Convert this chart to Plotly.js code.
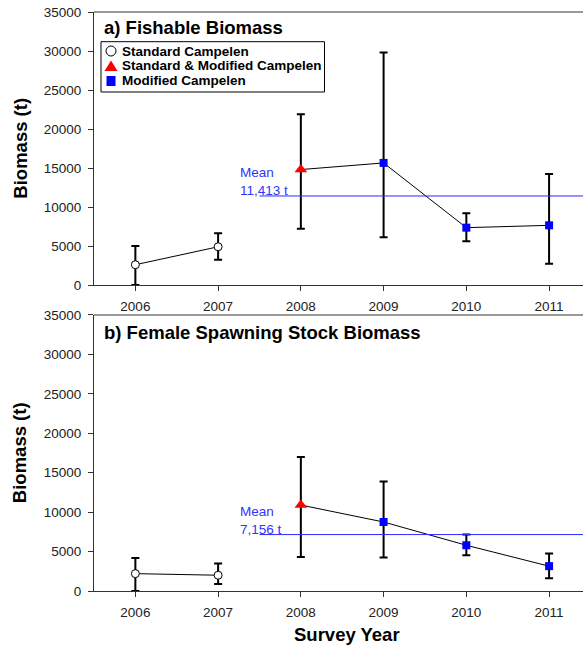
<!DOCTYPE html>
<html>
<head>
<meta charset="utf-8">
<script src="https://cdn.plot.ly/plotly-3.0.1.min.js"></script>
<style>
  html, body { margin: 0; padding: 0; background: #fff; }
  #chart { width: 583px; height: 648px; }
</style>
</head>
<body>
<div id="chart"></div>
<script>
// ---- data ----
const years = [2006, 2007, 2008, 2009, 2010, 2011];
const gear = ['Standard Campelen', 'Standard Campelen', 'Standard & Modified Campelen',
              'Modified Campelen', 'Modified Campelen', 'Modified Campelen'];

const fishable      = [2600, 4900, 14800, 15650, 7350, 7650];
const fishableUpper = [5000, 6630, 21900, 29800, 9200, 14230];
const fishableLower = [0, 3250, 7220, 6110, 5600, 2730];
const fishableMean  = 11413;

const ssb      = [2200, 2000, 10900, 8750, 5800, 3150];
const ssbUpper = [4190, 3480, 17000, 13880, 7160, 4750];
const ssbLower = [0, 890, 4310, 4240, 4530, 1610];
const ssbMean  = 7156;

const panelTitles = ['a) Fishable Biomass', 'b) Female Spawning Stock Biomass'];
const legendLabels = ['Standard Campelen', 'Standard & Modified Campelen', 'Modified Campelen'];
const yTicks = [0, 5000, 10000, 15000, 20000, 25000, 30000, 35000];
const meanStartYear = 2007.5;

// ---- styling ----
const FONT = 'Liberation Sans, Arial, Helvetica, sans-serif';
const groupStyle = {
  'Standard Campelen': { symbol: 'circle', color: '#ffffff', size: 8, line: { color: '#000', width: 1 } },
  'Standard & Modified Campelen': { symbol: 'triangle-up', color: '#ff0000', size: 11, line: { color: '#ff0000', width: 0 } },
  'Modified Campelen': { symbol: 'square', color: '#0000ff', size: 8, line: { color: '#0000ff', width: 0 } }
};

const XRANGE = [2005.5, 2011.41];

function pick(arr, idx) { return idx.map(i => arr[i]); }

function panelTraces(vals, upper, lower, xa, ya) {
  const traces = [];
  // connecting lines: within the standard-gear years, and from 2008 onward
  [[0, 1], [2, 3, 4, 5]].forEach(seg => {
    traces.push({
      x: pick(years, seg), y: pick(vals, seg), xaxis: xa, yaxis: ya,
      mode: 'lines', line: { color: '#000', width: 1 },
      showlegend: false, hoverinfo: 'skip', cliponaxis: false
    });
  });
  legendLabels.forEach(g => {
    const idx = years.map((_, i) => i).filter(i => gear[i] === g);
    const st = groupStyle[g];
    traces.push({
      x: pick(years, idx), y: pick(vals, idx), xaxis: xa, yaxis: ya,
      name: g, mode: 'markers', showlegend: false, cliponaxis: false,
      marker: { symbol: st.symbol, color: st.color, size: st.size, line: st.line },
      error_y: {
        type: 'data', symmetric: false,
        array: idx.map(i => upper[i] - vals[i]),
        arrayminus: idx.map(i => vals[i] - lower[i]),
        color: '#000', thickness: 2, width: 4
      }
    });
  });
  return traces;
}

const data = [].concat(
  panelTraces(fishable, fishableUpper, fishableLower, 'x', 'y'),
  panelTraces(ssb, ssbUpper, ssbLower, 'x2', 'y2')
);

function xAxis(anchor) {
  return {
    range: XRANGE, anchor: anchor, tickmode: 'array', tickvals: years,
    ticktext: years.map(String), ticks: 'outside', ticklen: 5, tickwidth: 1,
    tickcolor: '#333', showline: true, linecolor: '#333', linewidth: 1,
    showgrid: false, zeroline: false, ticklabelstandoff: 4,
    tickfont: { family: FONT, size: 13.5, color: '#222' }, fixedrange: true
  };
}
function yAxis(anchor, domain) {
  return {
    range: [0, 35000], domain: domain, anchor: anchor, tickmode: 'array',
    tickvals: yTicks, ticktext: yTicks.map(String), ticks: 'outside', ticklen: 5,
    tickwidth: 1, tickcolor: '#333', showline: true, linecolor: '#333', linewidth: 1,
    showgrid: false, zeroline: false, ticklabelstandoff: 4,
    tickfont: { family: FONT, size: 13.5, color: '#222' }, fixedrange: true
  };
}

const fmt = v => v.toLocaleString('en-US');
const boldFont = sz => ({ family: FONT, size: sz, weight: 'bold', color: '#000' });

// ---- legend (drawn as a framed key inside panel a) ----
const legX = 0.0348, legTextX = 0.0532;
const legRows = [0.8571, 0.8022, 0.7473];
const legendShapes = [
  { type: 'rect', xref: 'x domain', yref: 'y domain', x0: 0.0143, x1: 0.4714, y0: 0.707, y1: 0.8912,
    line: { color: '#000', width: 1 }, fillcolor: '#fff', layer: 'above' },
  { type: 'circle', xref: 'x domain', yref: 'y domain', xsizemode: 'pixel', ysizemode: 'pixel',
    xanchor: legX, yanchor: legRows[0], x0: -5, x1: 5, y0: -5, y1: 5,
    line: { color: '#000', width: 1 }, fillcolor: '#fff', layer: 'above' },
  { type: 'path', xref: 'x domain', yref: 'y domain', xsizemode: 'pixel', ysizemode: 'pixel',
    xanchor: legX, yanchor: legRows[1], path: 'M-6.5,-5 L6.5,-5 L0,5.5 Z',
    line: { color: '#ff0000', width: 0 }, fillcolor: '#ff0000', layer: 'above' },
  { type: 'rect', xref: 'x domain', yref: 'y domain', xsizemode: 'pixel', ysizemode: 'pixel',
    xanchor: legX, yanchor: legRows[2], x0: -4.5, x1: 4.5, y0: -5, y1: 5,
    line: { color: '#0000ff', width: 0 }, fillcolor: '#0000ff', layer: 'above' }
];
const legendText = legendLabels.map((t, i) => ({
  text: t, xref: 'x domain', yref: 'y domain', x: legTextX, y: legRows[i],
  xanchor: 'left', yanchor: 'middle', showarrow: false, font: boldFont(13.5)
}));

const layout = {
  width: 583, height: 648,
  margin: { l: 94, r: 0, t: 12, b: 57 },
  paper_bgcolor: '#fff', plot_bgcolor: '#fff',
  font: { family: FONT, color: '#000' },
  xaxis: xAxis('y'),
  yaxis: yAxis('x', [0.5285, 1]),
  xaxis2: xAxis('y2'),
  yaxis2: yAxis('x2', [0, 0.4767]),
  showlegend: false,
  shapes: [
    // top frame lines
    { type: 'line', xref: 'x domain', yref: 'y domain', x0: 0, x1: 1, y0: 1, y1: 1, line: { color: '#333', width: 1 } },
    { type: 'line', xref: 'x2 domain', yref: 'y2 domain', x0: 0, x1: 1, y0: 1, y1: 1, line: { color: '#333', width: 1 } },
    // mean lines
    { type: 'line', xref: 'x', yref: 'y', x0: meanStartYear, x1: XRANGE[1], y0: fishableMean, y1: fishableMean, line: { color: '#2a2aff', width: 1 } },
    { type: 'line', xref: 'x2', yref: 'y2', x0: meanStartYear, x1: XRANGE[1], y0: ssbMean, y1: ssbMean, line: { color: '#2a2aff', width: 1 } }
  ].concat(legendShapes),
  annotations: [
    { text: panelTitles[0], xref: 'x domain', yref: 'y domain', x: 0.017, y: 0.943, xanchor: 'left', yanchor: 'middle', showarrow: false, font: boldFont(18.5) },
    { text: panelTitles[1], xref: 'x2 domain', yref: 'y2 domain', x: 0.017, y: 0.935, xanchor: 'left', yanchor: 'middle', showarrow: false, font: boldFont(18.5) },
    { text: 'Mean<br>' + fmt(fishableMean) + ' t', xref: 'x', yref: 'y', x: 2007.24, y: fishableMean, xanchor: 'left', yanchor: 'bottom', yshift: -4, align: 'left', showarrow: false, font: { family: FONT, size: 13.5, color: '#3333ff' } },
    { text: 'Mean<br>' + fmt(ssbMean) + ' t', xref: 'x2', yref: 'y2', x: 2007.24, y: ssbMean, xanchor: 'left', yanchor: 'bottom', yshift: -4, align: 'left', showarrow: false, font: { family: FONT, size: 13.5, color: '#3333ff' } },
    { text: 'Biomass (t)', xref: 'paper', yref: 'y domain', x: -0.151, y: 0.5, textangle: -90, xanchor: 'center', yanchor: 'middle', showarrow: false, font: boldFont(18.5) },
    { text: 'Biomass (t)', xref: 'paper', yref: 'y2 domain', x: -0.151, y: 0.5, textangle: -90, xanchor: 'center', yanchor: 'middle', showarrow: false, font: boldFont(18.5) },
    { text: 'Survey Year', xref: 'paper', yref: 'paper', x: 0.517, y: 0, yshift: -43, xanchor: 'center', yanchor: 'middle', showarrow: false, font: boldFont(18.5) }
  ].concat(legendText)
};

Plotly.newPlot('chart', data, layout, { displayModeBar: false, staticPlot: true });
</script>
</body>
</html>
